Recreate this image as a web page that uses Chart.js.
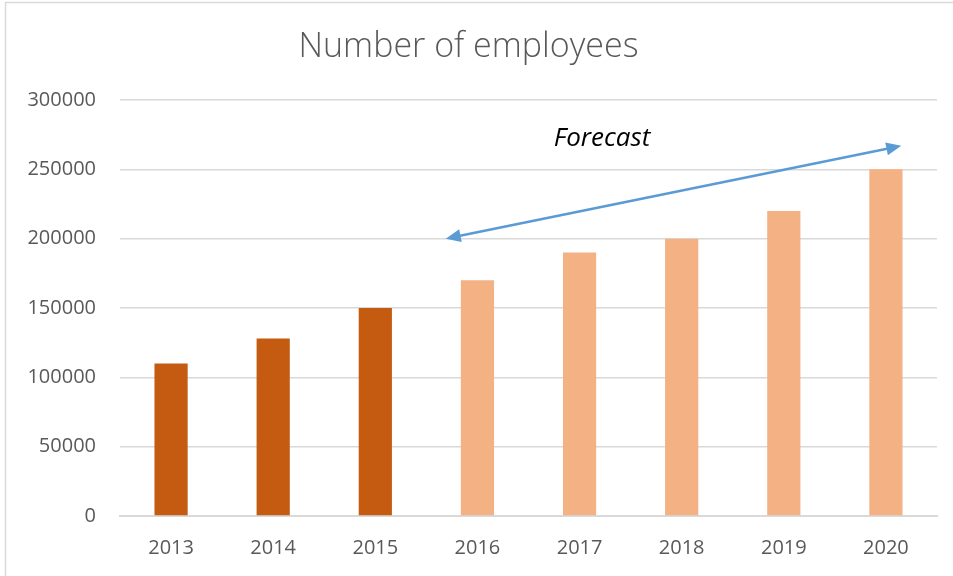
<!DOCTYPE html>
<html>
<head>
<meta charset="utf-8">
<script src="https://cdn.jsdelivr.net/npm/chart.js@4/dist/chart.umd.min.js"></script>
<style>
  html, body { margin: 0; padding: 0; background: #fff; }
  #wrap { width: 953px; height: 576px; position: relative; }
</style>
</head>
<body>
<div id="wrap"><canvas id="myChart"></canvas></div>
<script>
const years = ['2013', '2014', '2015', '2016', '2017', '2018', '2019', '2020'];
const employees = [110000, 128000, 150000, 170000, 190000, 200000, 220000, 250000];
const firstForecast = '2016';
const yTicks = [0, 50000, 100000, 150000, 200000, 250000, 300000];

// forecast arrow, in data units (x = category index, y = value)
const arrowFrom = [2.69, 200000];
const arrowTo = [7.15, 267000];
const forecastLabel = 'Forecast';
const forecastLabelAt = [4.22, 272500];

const barColors = years.map(y => (y < firstForecast ? '#C55A11' : '#F4B183'));

const frame = {
    id: 'frame',
    beforeDraw(chart) {
        const c = chart.ctx;
        c.save();
        c.strokeStyle = '#d9d9d9';
        c.lineWidth = 1.5;
        c.strokeRect(5.5, 2.5, 1200, 800);
        c.restore();
    }
};

const forecastArrow = {
    id: 'forecastArrow',
    afterDatasetsDraw(chart) {
        const c = chart.ctx;
        const x = chart.scales.x, y = chart.scales.y;
        const x1 = x.getPixelForValue(arrowFrom[0]), y1 = y.getPixelForValue(arrowFrom[1]);
        const x2 = x.getPixelForValue(arrowTo[0]), y2 = y.getPixelForValue(arrowTo[1]);
        const ang = Math.atan2(y2 - y1, x2 - x1);
        const len = 15, half = 6.5;
        c.save();
        c.strokeStyle = '#5B9BD5';
        c.fillStyle = '#5B9BD5';
        c.lineWidth = 2.5;
        c.beginPath();
        c.moveTo(x1 + Math.cos(ang) * len * 0.8, y1 + Math.sin(ang) * len * 0.8);
        c.lineTo(x2 - Math.cos(ang) * len * 0.8, y2 - Math.sin(ang) * len * 0.8);
        c.stroke();
        const head = (px, py, a) => {
            c.beginPath();
            c.moveTo(px, py);
            c.lineTo(px - Math.cos(a) * len - Math.sin(a) * half, py - Math.sin(a) * len + Math.cos(a) * half);
            c.lineTo(px - Math.cos(a) * len + Math.sin(a) * half, py - Math.sin(a) * len - Math.cos(a) * half);
            c.closePath();
            c.fill();
        };
        head(x2, y2, ang);
        head(x1, y1, ang + Math.PI);
        c.font = 'italic 26px "Open Sans"';
        c.fillStyle = '#000';
        c.textAlign = 'center';
        c.textBaseline = 'middle';
        c.fillText(forecastLabel, x.getPixelForValue(forecastLabelAt[0]), y.getPixelForValue(forecastLabelAt[1]));
        c.restore();
    }
};

const cts = document.querySelector('#myChart').getContext('2d');

const config = {
    type: 'bar',
    data: {
        labels: years,
        datasets: [{
            label: 'Number of employees',
            data: employees,
            backgroundColor: barColors,
            categoryPercentage: 1,
            barPercentage: 0.325,
        }],
    },
    options: {
        responsive: true,
        maintainAspectRatio: false,
        animation: false,
        layout: { padding: { left: 0, right: 16, top: 0, bottom: 0 } },
        plugins: {
            legend: { display: false },
            tooltip: { enabled: false },
            title: {
                display: true,
                text: 'Number of employees',
                color: '#595959',
                font: { family: '"Open Sans"', size: 34, weight: 300, lineHeight: 1.2 },
                padding: { top: 27, bottom: 32.2 },
            },
        },
        scales: {
            x: {
                grid: { display: false },
                border: { display: true, color: '#d9d9d9', width: 2 },
                ticks: {
                    color: '#595959',
                    font: { family: '"Open Sans"', size: 20 },
                    padding: 12,
                },
                afterFit(scale) { scale.height = 60; },
            },
            y: {
                min: 0,
                max: 300000,
                afterBuildTicks(scale) { scale.ticks = yTicks.map(v => ({ value: v })); },
                grid: { color: '#d9d9d9', lineWidth: 1.5, drawTicks: false },
                border: { display: false },
                ticks: {
                    color: '#595959',
                    font: { family: '"Open Sans"', size: 20 },
                    padding: 24,
                    callback: v => String(v),
                },
                afterFit(scale) { scale.width = 120; },
            },
        },
    },
    plugins: [frame, forecastArrow],
};

const myChart = new Chart(cts, config);
</script>
</body>
</html>
